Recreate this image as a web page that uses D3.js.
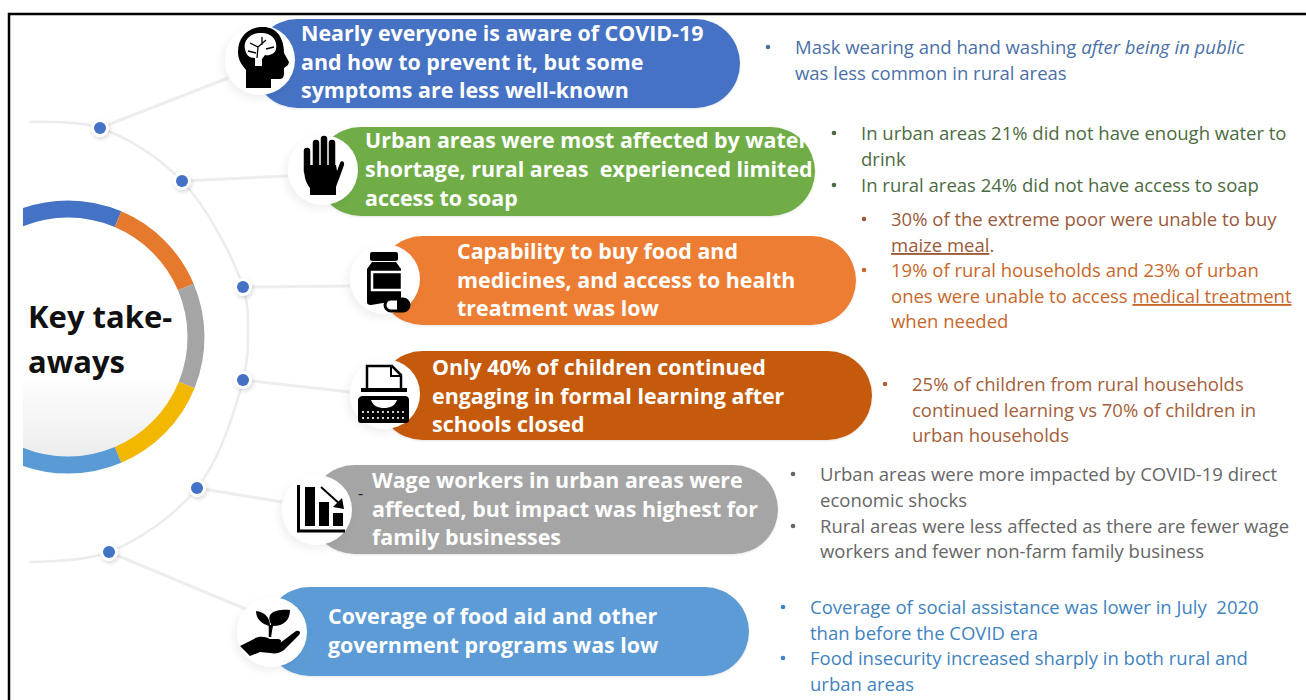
<!DOCTYPE html>
<html><head><meta charset="utf-8">
<script src="https://cdn.jsdelivr.net/npm/d3@7/dist/d3.min.js"></script>
<style>html,body{margin:0;padding:0;background:#fff}svg{display:block}text{font-family:"Open Sans",sans-serif}</style>
</head><body><div id="c"></div>
<script>
// ---- content ----
const centerTitle = ["Key take-", "aways"];
const pillColors = ["#4472c4","#70ad47","#ed7d31","#c55a11","#a5a5a5","#5b9bd5"];
const pillTexts = [
 ["Nearly everyone is aware of COVID-19","and how to prevent it, but some","symptoms are less well-known"],
 ["Urban areas were most affected by water","shortage, rural areas  experienced limited","access to soap"],
 ["Capability to buy food and","medicines, and access to health","treatment was low"],
 ["Only 40% of children continued","engaging in formal learning after","schools closed"],
 ["Wage workers in urban areas were","affected, but impact was highest for","family businesses"],
 ["Coverage of food aid and other","government programs was low"]
];
// Each block: list of bullets, each a list of lines. *x* italic, _x_ underlined
const bulletTexts = [
 [["Mask wearing and hand washing *after being in public*","was less common in rural areas"]],
 [["In urban areas 21% did not have enough water to","drink"],["In rural areas 24% did not have access to soap"]],
 [["30% of the extreme poor were unable to buy","_maize meal_."],["19% of rural households and 23% of urban","ones were unable to access _medical treatment_","when needed"]],
 [["25% of children from rural households","continued learning vs 70% of children in","urban households"]],
 [["Urban areas were more impacted by COVID-19 direct","economic shocks"],["Rural areas were less affected as there are fewer wage","workers and fewer non-farm family business"]],
 [["Coverage of social assistance was lower in July  2020","than before the COVID era"],["Food insecurity increased sharply in both rural and","urban areas"]]
];
const bulletColors = [["#4b70a8"],["#4d6b42","#4d6b42"],["#9a5a3a","#c8682c"],["#a5603a"],["#666666","#666666"],["#3f83bf","#3f83bf"]];
const ringValues = [46,44,45,45,46,134];
const ringColors = ["#4472c4","#e57a2e","#a5a5a5","#f2b800","#5b9bd5","#70ad47"];

// ---- layout ----
const W=1306,H=700;
const arcPoints = [[29,122],[100,128],[182,181],[243,287],[248,333],[243,380],[197,488],[109,552],[29,562]];
const nodeIndex = [1,2,3,5,6,7];
const connEnd = [[228,78],[288,176],[350,286],[350,392],[282,502],[248,610]];
const pillBox = [
 {y:19,r:740,cx:260,cy:60},
 {y:127,r:815,cx:323,cy:170},
 {y:236,r:856,cx:385,cy:279},
 {y:351,r:872,cx:385,cy:394},
 {y:465,r:778,cx:317,cy:510},
 {y:587,r:749,cx:272,cy:632}
];
const pillLayout = [
 {x:301,y:[41,70,98]},{x:365,y:[148,177,206]},{x:457,y:[259,288,316]},
 {x:432,y:[375,404,432]},{x:372,y:[488,517,545]},{x:328,y:[624,653]}
];
const bulletLayout = [
 {b:768,x:795,y:[54,80]},{b:834,x:861,y:[140,166,192]},{b:864,x:891,y:[226,252,277,303,328]},
 {b:885,x:912,y:[391,417,442]},{b:793,x:820,y:[481,507,533,558]},{b:783,x:810,y:[614,640,665,691]}
];
const svg=d3.select("#c").append("svg").attr("width",W).attr("height",H);
const defs=svg.append("defs");
const shadow=(id,dx,dy,s,o)=>{defs.append("filter").attr("id",id).attr("x","-30%").attr("y","-30%").attr("width","160%").attr("height","160%")
  .append("feDropShadow").attr("dx",dx).attr("dy",dy).attr("stdDeviation",s).attr("flood-color","#000").attr("flood-opacity",o);};
shadow("sc",-3,4,4,.06); shadow("sd",1,2,2,.16); shadow("sp",0,1,1,.1);
const grad=defs.append("linearGradient").attr("id","disc").attr("x1",0).attr("y1",0).attr("x2",0).attr("y2",1);
grad.append("stop").attr("offset","65%").attr("stop-color","#fff");
grad.append("stop").attr("offset","100%").attr("stop-color","#ededed");
defs.append("clipPath").attr("id","clipL").append("rect").attr("x",23).attr("y",0).attr("width",W).attr("height",H);

// frame
svg.append("path").attr("d",`M9 ${H}V14H${W}`).attr("fill","none").attr("stroke","#000").attr("stroke-width",2.5);

// outer arc + connectors + nodes
svg.append("path").attr("d",d3.line().curve(d3.curveCatmullRom.alpha(0.5))(arcPoints)).attr("fill","none").attr("stroke","#ececec").attr("stroke-width",2.5);
const nodePos=nodeIndex.map(i=>arcPoints[i]);
svg.append("g").selectAll("line").data(nodePos).join("line")
 .attr("x1",d=>d[0]).attr("y1",d=>d[1]).attr("x2",(d,i)=>connEnd[i][0]).attr("y2",(d,i)=>connEnd[i][1])
 .attr("stroke","#eeeeee").attr("stroke-width",3);
const nodes=svg.append("g").selectAll("g").data(nodePos).join("g").attr("transform",d=>`translate(${d})`);
nodes.append("circle").attr("r",9).attr("fill","#fff").attr("filter","url(#sd)");
nodes.append("circle").attr("r",6).attr("fill","#4472c4");

// central ring
const centre=svg.append("g").attr("clip-path","url(#clipL)").append("g").attr("transform","translate(68,337)");
const pie=d3.pie().sort(null).startAngle(-23*Math.PI/180).endAngle((360-23)*Math.PI/180);
const ring=d3.arc().innerRadius(119.5).outerRadius(136.5);
centre.append("circle").attr("r",119.5).attr("fill","url(#disc)");
centre.selectAll("path").data(pie(ringValues)).join("path").attr("d",ring).attr("fill",(d,i)=>ringColors[i]);
svg.append("g").selectAll("text").data(centerTitle).join("text").attr("x",28).attr("y",(d,i)=>328+i*45)
 .attr("font-size",31).attr("font-weight",700).attr("fill","#111").text(d=>d);

// pills
const pills=svg.append("g").selectAll("g").data(pillBox).join("g");
pills.append("rect").attr("x",d=>d.cx-7).attr("y",d=>d.y).attr("width",d=>d.r-d.cx+7).attr("height",89).attr("rx",44.5)
 .attr("fill",(d,i)=>pillColors[i]).attr("filter","url(#sp)");
pills.append("circle").attr("cx",d=>d.cx).attr("cy",d=>d.cy).attr("r",35).attr("fill","#fff").attr("filter","url(#sc)");
pills.each(function(d,i){
 d3.select(this).append("g").selectAll("text").data(pillTexts[i]).join("text")
  .attr("x",pillLayout[i].x).attr("y",(t,j)=>pillLayout[i].y[j]).style("white-space","pre")
  .attr("font-size",21.4).attr("font-weight",700).attr("fill","#fff").text(t=>t);
});
svg.append("text").attr("x",358).attr("y",499).attr("font-size",16).attr("fill","#222").text("-");

// bullets
function addRuns(sel,line){
 const parts=line.split(/(\*[^*]+\*|_[^_]+_)/).filter(Boolean);
 parts.forEach(p=>{
  const ts=sel.append("tspan");
  if(p[0]==="*"){ts.attr("font-style","italic").text(p.slice(1,-1));}
  else if(p[0]==="_"){ts.attr("text-decoration","underline").text(p.slice(1,-1));}
  else ts.text(p);
 });
}
bulletTexts.forEach((blk,i)=>{
 const L=bulletLayout[i];let k=0;const g=svg.append("g");
 blk.forEach((item,b)=>{
  const col=bulletColors[i][b];
  g.append("circle").attr("cx",L.b).attr("cy",L.y[k]-7).attr("r",2.3).attr("fill",col);
  item.forEach(line=>{
   const t=g.append("text").attr("x",L.x).attr("y",L.y[k]).attr("font-size",18.5).attr("fill",col).style("white-space","pre");
   addRuns(t,line);k++;
  });
 });
});

// icons
const ic=svg.append("g");
// head with brain
const head=ic.append("g").attr("transform","translate(238,27)");
head.append("path").attr("d","M25 0C10 0 0 10 0 25C0 33 4 38 8 43L8 61L33 61L33 52L42 52C45 52 46 49 46 46L46 41L50 38L51 35L46 26C46 10 38 0 25 0Z").attr("fill","#000");
head.append("path").attr("d","M7 22C5 14 12 6 22 6C33 5 40 13 38 22C37 27 31 29 27 28L24 32L24 39L17 39L17 31C11 31 8 28 7 22Z").attr("fill","#fff");
head.append("path").attr("d","M12 16L20 20L28 13M20 20L19 31M28 22L36 20M10 24L18 26M24 10L24 18").attr("fill","none").attr("stroke","#000").attr("stroke-width",1.3);
// hand
const hand=ic.append("g").attr("transform","translate(302,135)");
hand.selectAll("line").data([[5,16,5,36],[14,8,14,36],[22,4,22,36],[30,8,30,36]]).join("line")
 .attr("x1",d=>d[0]).attr("y1",d=>d[1]).attr("x2",d=>d[2]).attr("y2",d=>d[3]).attr("stroke","#000").attr("stroke-width",6.5).attr("stroke-linecap","round");
hand.append("path").attr("d","M2 30L34 30L35 36L38 28C39 25 43 26 42 30L37 44C35 49 34 51 34 53L34 60L8 60L8 53C3 47 2 40 2 30Z").attr("fill","#000");
// bottle
const bot=ic.append("g").attr("transform","translate(367,252)");
bot.append("rect").attr("x",3).attr("y",0).attr("width",28).attr("height",9).attr("rx",2).attr("fill","#000");
bot.append("path").attr("d","M5 10L29 10L34 17L34 48L4 53C1 53 0 52 0 50L0 17Z").attr("fill","#000");
bot.append("rect").attr("x",5).attr("y",20).attr("width",30).attr("height",18).attr("fill","#000").attr("stroke","#fff").attr("stroke-width",2.5);
bot.append("rect").attr("x",18).attr("y",47).attr("width",24).attr("height",12).attr("rx",6).attr("fill","#fff").attr("stroke","#000").attr("stroke-width",3);
bot.append("path").attr("d","M30 47L36 47A6 6 0 0 1 36 59L30 59Z").attr("fill","#000");
// typewriter
const ty=ic.append("g").attr("transform","translate(358,365)");
ty.append("path").attr("d","M9 23L9 1L34 1L43 10L43 23").attr("fill","none").attr("stroke","#000").attr("stroke-width",2.5);
ty.append("path").attr("d","M33 1L33 11L43 11").attr("fill","none").attr("stroke","#000").attr("stroke-width",2);
ty.append("rect").attr("x",3).attr("y",23).attr("width",46).attr("height",4).attr("fill","#000");
ty.append("path").attr("d","M5 31L47 31C50 31 51 33 51 35L51 55C51 57 50 58 48 58L3 58C1 58 0 57 0 55L0 35C0 33 2 31 5 31Z").attr("fill","#000");
ty.append("path").attr("d","M13 35L39 35C37 41 32 43 26 43C20 43 15 41 13 35Z").attr("fill","#fff");
ty.append("g").selectAll("circle").data(d3.cross(d3.range(5,48,5),[47,53])).join("circle")
 .attr("cx",d=>d[0]).attr("cy",d=>d[1]).attr("r",1.1).attr("fill","#fff");
// falling chart
const ch=ic.append("g").attr("transform","translate(297,485)");
ch.append("path").attr("d","M1.5 0L1.5 46L48 46").attr("fill","none").attr("stroke","#000").attr("stroke-width",3);
ch.selectAll("rect").data([[8,2,10,39],[22,17,10,24],[36,28,10,13]]).join("rect")
 .attr("x",d=>d[0]).attr("y",d=>d[1]).attr("width",d=>d[2]).attr("height",d=>d[3]).attr("fill","#000");
ch.append("path").attr("d","M24 2L45 21").attr("stroke","#000").attr("stroke-width",2);
ch.append("path").attr("d","M47 24L36 22L45 13Z").attr("fill","#000");
// plant in hand
const pl=ic.append("g").attr("transform","translate(240,610)");
pl.append("path").attr("d","M0 36L12 30C18 26 24 26 30 29L38 29C42 29 42 33 38 34L30 35L40 33L56 21C60 20 61 23 59 25L44 40C40 43 36 44 30 43L20 42L10 46Z").attr("fill","#000");
pl.append("path").attr("d","M31 26L31 14C26 4 33 -1 50 0C50 10 44 16 33 16").attr("fill","#000");
pl.append("path").attr("d","M29 16C22 14 16 9 16 1C24 2 30 7 30 16Z").attr("fill","#000");
pl.append("path").attr("d","M30 15L30 27").attr("stroke","#000").attr("stroke-width",2.5);
</script></body></html>
